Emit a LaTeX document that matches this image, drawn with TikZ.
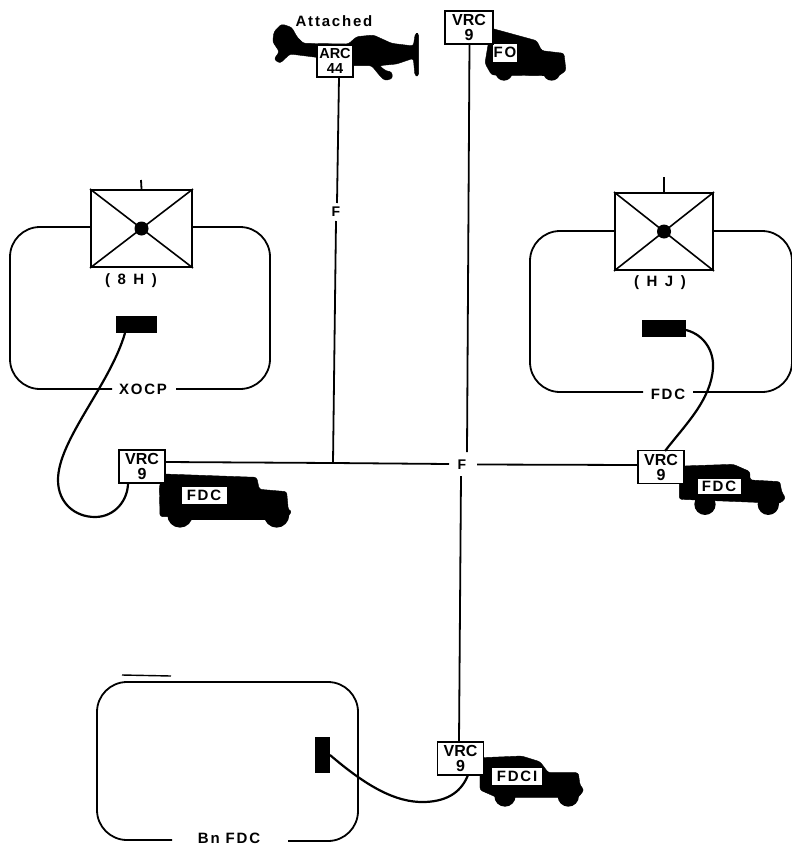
\documentclass[tikz,border=0pt]{standalone}
\usepackage{fontspec}
\setmainfont{Liberation Sans}[BoldFont={Liberation Sans Bold}]
\newfontfamily\spaced{Liberation Sans Bold}[LetterSpace=12]
\newfontfamily\wide{Liberation Sans Bold}[LetterSpace=22]
\begin{document}
\begin{tikzpicture}[x=1pt,y=-1pt,
  radio/.style={draw,line width=1.8pt,fill=white,inner sep=0pt,minimum width=46pt,minimum height=33pt,align=center,font=\fontsize{16}{15}\selectfont\bfseries},
  plate/.style={fill=white,inner sep=0pt,font=\fontsize{15}{15}\selectfont\spaced},
  lbl/.style={inner sep=0pt,font=\fontsize{15}{15}\selectfont\spaced},
  wire/.style={line width=1.8pt},
  cable/.style={line width=2.2pt},
  room/.style={line width=1.8pt,rounded corners=30pt},
  tent/.style={draw,line width=2pt,fill=white,inner sep=0pt},
  sil/.style={fill=black,draw=black,line join=round,rounded corners=2.5pt},
  zoomA/.style={shift={(250,0)},x=0.3333pt,y=-0.3333pt},
  zoomB/.style={shift={(0,170)},x=0.3333pt,y=-0.3333pt},
  zoomC/.style={shift={(520,170)},x=0.3333pt,y=-0.3333pt},
  zoomD/.style={shift={(300,720)},x=0.3333pt,y=-0.3333pt}]
\useasboundingbox (0,0) rectangle (792,846);

% --- silhouettes ---
\begin{scope}[zoomA]
 \path[sil] (72,95) -- (95,72) -- (125,82) -- (142,112) -- (160,130) -- (295,132) -- (320,110) -- (370,105) -- (425,130) -- (490,138) -- (496,100) -- (506,100) -- (506,228) -- (495,228) -- (490,175) -- (440,192) -- (388,197) -- (408,213) -- (425,215) -- (428,235) -- (405,242) -- (390,228) -- (365,197) -- (310,197) -- (200,172) -- (120,162) -- (90,190) -- (72,178) -- (88,155) -- (68,125) -- cycle;
 \path[sil] (725,85) -- (860,122) -- (875,152) -- (942,160) -- (948,212) -- (925,228) -- (725,225) -- (705,190) -- (715,130) -- cycle;
 \fill (762,216) circle[radius=26];
 \fill (905,216) circle[radius=26];
\end{scope}
\begin{scope}[zoomB]
 \path[sil] (490,912) -- (770,922) -- (778,958) -- (860,965) -- (865,1020) -- (876,1025) -- (860,1042) -- (480,1040) -- (478,950) -- cycle;
 \fill (540,1035) circle[radius=38];
 \fill (830,1035) circle[radius=38];
 \fill (520,1030) rectangle (850,1050);
\end{scope}
\begin{scope}[zoomC]
 \path[sil] (490,888) -- (640,883) -- (690,905) -- (690,930) -- (780,935) -- (785,965) -- (797,985) -- (780,1000) -- (478,988) -- (478,920) -- cycle;
 \fill (555,1003) circle[radius=32];
 \fill (745,1003) circle[radius=32];
\end{scope}
\begin{scope}[zoomD]
 \path[sil] (545,113) -- (665,108) -- (720,125) -- (745,158) -- (835,158) -- (840,195) -- (852,210) -- (835,232) -- (590,232) -- (540,210) -- (540,125) -- cycle;
 \fill (615,228) circle[radius=32];
 \fill (805,228) circle[radius=32];
\end{scope}

% --- vehicle plates ---
\node[plate,minimum width=24pt,minimum height=18pt] (fo) at (505,52.5) {FO};
\node[plate,minimum width=45pt,minimum height=17pt] (fdcl) at (204,495) {FDC};
\node[plate,minimum width=43pt,minimum height=15pt] (fdcr) at (719,486) {FDC};
\node[plate,minimum width=50pt,minimum height=17pt] (fdci) at (517,776.5) {FDCI};

% --- tents ---
\node[tent,minimum width=101pt,minimum height=77pt] (tl) at (141.5,228.5) {};
\node[tent,minimum width=98pt,minimum height=77pt] (tr) at (664,231.5) {};
\draw[line width=1.6pt] (tl.north west) -- (tl.south east) (tl.north east) -- (tl.south west);
\draw[line width=1.6pt] (tr.north west) -- (tr.south east) (tr.north east) -- (tr.south west);
\fill (tl.center) circle[radius=7];
\fill (tr.center) circle[radius=7];
\coordinate (tlt) at (141,180);
\coordinate (trt) at (664,177);
\draw[wire] (tlt) -- (tl.north);
\draw[line width=2.4pt] (trt) -- (tr.north);
\node[lbl,font=\fontsize{15}{15}\selectfont\wide] (h8) at (131,281) {( 8 H )};
\node[lbl,font=\fontsize{15}{15}\selectfont\wide] (hj) at (660,283) {( H J )};

% --- command posts ---
\node[lbl] (xocp) at (143,389) {XOCP};
\node[lbl] (fdcroom) at (668,394) {FDC};
\node[lbl] (bn) at (229,838) {Bn FDC};
\draw[room] (tl.west |- 0,227) -- (10,227) -- (10,389) -- (112,389);
\draw[room] (tl.east |- 0,227) -- (270,227) -- (270,389) -- (176,389);
\draw[room] (tr.west |- 0,231) -- (530,231) -- (530,392) -- (643,392);
\draw[room] (tr.east |- 0,231) -- (792,231) -- (792,392) -- (693,392);
\draw[room] (172,840) -- (97,840) -- (97,682) -- (358,682) -- (358,841) -- (288,841);
\draw[line width=1.4pt] (122,675) -- (171,676);

% --- radio sets ---
\node[radio,minimum width=48pt] (vt) at (469,27.5) {VRC\\9};
\node[radio,minimum width=36pt,minimum height=32pt,font=\fontsize{14.5}{15}\selectfont\bfseries] (arc) at (335,61) {ARC\\44};
\node[radio] (vl) at (142,466.5) {VRC\\9};
\node[radio] (vr) at (661,467) {VRC\\9};
\node[radio] (vb) at (460.5,758.5) {VRC\\9};
\node[lbl] (att) at (334,21) {Attached};

% --- black sets ---
\node[fill=black,inner sep=0pt,minimum width=41pt,minimum height=17pt] (sl) at (136.5,324.5) {};
\node[fill=black,inner sep=0pt,minimum width=44pt,minimum height=17pt] (sr) at (664,328) {};
\node[fill=black,inner sep=0pt,minimum width=15pt,minimum height=36pt] (sb) at (322.5,755) {};

% --- net ---
\node[inner sep=1pt,font=\fontsize{14}{14}\selectfont\bfseries] (f1) at (336,212) {F};
\node[inner sep=1pt,font=\fontsize{14}{14}\selectfont\bfseries] (f2) at (462,465) {F};
\coordinate (j) at (333,463);
\coordinate (a0) at (339,77);
\coordinate (a1) at (337,203);
\coordinate (a2) at (336,221);
\coordinate (t1) at (467,452);
\coordinate (b1) at (461,476);
\coordinate (h1) at (449,464);
\coordinate (h2) at (477,464.5);
\coordinate (vtb) at (469.5,44);
\coordinate (vbt) at (459,742);
\coordinate (vle) at (165,462);
\coordinate (vrw) at (638,465);
\draw[wire] (a0) -- (a1);
\draw[wire] (a2) -- (j);
\draw[wire] (vtb) -- (t1);
\draw[wire] (b1) -- (vbt);
\draw[wire] (vle) -- (j) -- (h1);
\draw[wire] (h2) -- (vrw);

% --- cables ---
\coordinate (c1a) at (125,333);
\coordinate (c1b) at (128,483);
\coordinate (c2a) at (686,330);
\coordinate (c2b) at (665,451);
\coordinate (c3a) at (330,755);
\coordinate (c3b) at (468,775);
\draw[cable] (c1a) .. controls (110,385) and (58,440) .. (58,480) .. controls (58,503) and (75,517) .. (95,517) .. controls (115,517) and (128,500) .. (c1b);
\draw[cable] (c2a) .. controls (705,335) and (714,352) .. (713,368) .. controls (711,400) and (685,425) .. (c2b);
\draw[cable] (c3a) .. controls (365,785) and (395,803) .. (425,802) .. controls (450,801) and (462,790) .. (c3b);
\end{tikzpicture}
\end{document}
